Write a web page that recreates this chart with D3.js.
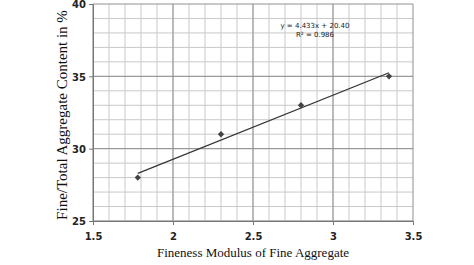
<!DOCTYPE html>
<html>
<head>
<meta charset="utf-8">
<script src="https://cdn.jsdelivr.net/npm/d3@7"></script>
<style>
body { margin: 0; background: #fff; }
</style>
</head>
<body>
<div id="chart"></div>
<script>
// data
var fmValues = [1.78, 2.3, 2.8, 3.35];      // fineness modulus
var fineContent = [28, 31, 33, 35];         // fine/total aggregate %
var xTicks = [1.5, 2, 2.5, 3, 3.5];
var yTicks = [25, 30, 35, 40];
var trendSlope = 4.433;
var trendIntercept = 20.40;
var eqLines = ["y = 4.433x + 20.40", "R\u00b2 = 0.986"];

var W = 474, H = 265;
var padL = 93, padR = 413, padT = 4, padB = 221;

var svg = d3.select("#chart").append("svg")
  .attr("width", W)
  .attr("height", H);

var x = d3.scaleLinear().domain([1.5, 3.5]).range([padL, padR]);
var y = d3.scaleLinear().domain([25, 40]).range([padB, padT]);

// minor grid
svg.append("g").selectAll("line")
  .data(d3.range(15, 35).map(function(d){ return d / 10; }))
  .enter().append("line")
  .attr("x1", function(d){ return x(d); })
  .attr("x2", function(d){ return x(d); })
  .attr("y1", padT).attr("y2", padB)
  .style("stroke", "#c9c9c9").style("stroke-width", 1);
svg.append("g").selectAll("line")
  .data(d3.range(25, 40))
  .enter().append("line")
  .attr("y1", function(d){ return y(d); })
  .attr("y2", function(d){ return y(d); })
  .attr("x1", padL).attr("x2", padR)
  .style("stroke", "#c9c9c9").style("stroke-width", 1);

// major grid
svg.append("g").selectAll("line")
  .data(xTicks)
  .enter().append("line")
  .attr("x1", function(d){ return x(d); })
  .attr("x2", function(d){ return x(d); })
  .attr("y1", padT).attr("y2", padB)
  .style("stroke", "#8f8f8f").style("stroke-width", 1);
svg.append("g").selectAll("line")
  .data(yTicks)
  .enter().append("line")
  .attr("y1", function(d){ return y(d); })
  .attr("y2", function(d){ return y(d); })
  .attr("x1", padL).attr("x2", padR)
  .style("stroke", "#8f8f8f").style("stroke-width", 1);

// axes
var xAxis = svg.append("g")
  .attr("transform", "translate(0," + padB + ")")
  .call(d3.axisBottom(x).tickValues(xTicks).tickSize(4).tickFormat(d3.format("")));
var yAxis = svg.append("g")
  .attr("transform", "translate(" + padL + ",0)")
  .call(d3.axisLeft(y).tickValues(yTicks).tickSize(4));
[xAxis, yAxis].forEach(function(a){
  a.select(".domain").style("stroke", "#777");
  a.selectAll(".tick line").style("stroke", "#777");
  a.selectAll("text")
    .style("font-family", "DejaVu Sans")
    .style("font-size", "10px")
    .style("font-weight", "bold")
    .style("fill", "#222");
});
xAxis.selectAll("text").attr("dy", "1.15em");
yAxis.selectAll("text").attr("dy", "0.38em");

// trend line
svg.append("line")
  .attr("x1", x(fmValues[0]))
  .attr("y1", y(trendSlope * fmValues[0] + trendIntercept))
  .attr("x2", x(fmValues[fmValues.length - 1]))
  .attr("y2", y(trendSlope * fmValues[fmValues.length - 1] + trendIntercept))
  .style("stroke", "#333")
  .style("stroke-width", 1.2);

// points
svg.append("g").selectAll("path")
  .data(fmValues)
  .enter().append("path")
  .attr("d", d3.symbol().type(d3.symbolDiamond2).size(26))
  .attr("transform", function(d, i){ return "translate(" + x(d) + "," + y(fineContent[i]) + ")"; })
  .style("fill", "#444");

// equation
svg.append("text")
  .attr("x", 315).attr("y", 28)
  .attr("text-anchor", "middle")
  .text(eqLines[0])
  .style("font-family", "DejaVu Sans")
  .style("font-size", "7px")
  .style("fill", "#222");
svg.append("text")
  .attr("x", 315).attr("y", 37)
  .attr("text-anchor", "middle")
  .text(eqLines[1])
  .style("font-family", "DejaVu Sans")
  .style("font-size", "7px")
  .style("fill", "#222");

// axis titles
svg.append("text")
  .attr("x", 253).attr("y", 257)
  .attr("text-anchor", "middle")
  .text("Fineness Modulus of Fine Aggregate")
  .style("font-family", "Liberation Serif")
  .style("font-size", "13px")
  .style("fill", "#111");
svg.append("text")
  .attr("transform", "translate(67,115) rotate(-90)")
  .attr("text-anchor", "middle")
  .text("Fine/Total Aggregate Content in %")
  .style("font-family", "Liberation Serif")
  .style("font-size", "15px")
  .style("fill", "#111");
</script>
</body>
</html>
